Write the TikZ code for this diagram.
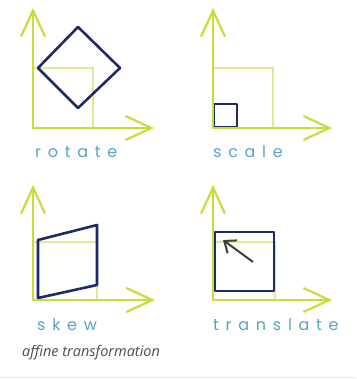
\documentclass[tikz,border=0pt]{standalone}
\usepackage{fontspec}
\usetikzlibrary{arrows.meta,positioning}
\newfontfamily\handfont[LetterSpace=42]{Poppins}
\newfontfamily\captfont{Open Sans}
\definecolor{axisgreen}{RGB}{196,222,60}
\definecolor{ghostgreen}{RGB}{224,234,150}
\definecolor{shapeblue}{RGB}{30,42,104}
\definecolor{labelteal}{RGB}{86,164,196}

\begin{document}
\begin{tikzpicture}[x=1pt, y=-1pt,
    >={Straight Barb[length=26pt,width=24pt,line width=2.2pt]},
    axisline/.style={->, draw, axisgreen, line width=2.6pt},
    ghost/.style={draw, ghostgreen, line width=2pt},
    blueline/.style={draw, shapeblue, line width=2.6pt, line join=round},
    moveline/.style={draw, black!75, line width=2pt, -{Straight Barb[length=10pt,width=16pt,line width=2pt]}},
    lbl/.style={anchor=west, inner sep=0pt, labelteal, font=\handfont\fontsize{16}{16}\selectfont},
    capt/.style={anchor=west, inner sep=0pt, black!70, font=\captfont\itshape\fontsize{14.5}{14.5}\selectfont}]

\useasboundingbox (0,0) rectangle (356,379);

% origins of the four frames
\coordinate (o1) at (33,128);
\coordinate (o2) at (213,128);
\coordinate (o3) at (33,300);
\coordinate (o4) at (213,300);

% rotate
\draw [ghost] (o1) rectangle ++(60,-60);
\draw [blueline] (38,68) -- (78,27) -- (120,68) -- (78,108) -- cycle;
\draw [axisline] (o1) -- ++(0,-120);
\draw [axisline] (o1) -- ++(121,0);
\node [lbl] (rotlbl) at (35,152) {rotate};

% scale
\draw [ghost] (o2) rectangle ++(60,-60);
\draw [blueline] (214,104) rectangle (237,127);
\draw [axisline] (o2) -- ++(0,-120);
\draw [axisline] (o2) -- ++(119,0);
\node [lbl] (scllbl) at (213,152) {scale};

% skew
\draw [ghost] (o3) rectangle ++(64,-58);
\draw [blueline] (38,240) -- (97,225) -- (97,285) -- (38,298) -- cycle;
\draw [axisline] (o3) -- ++(0,-115);
\draw [axisline] (o3) -- ++(122,0);
\node [lbl] (skwlbl) at (37,325) {skew};

% translate
\draw [ghost] (o4) rectangle ++(62,-58);
\draw [blueline] (215,232) rectangle (274,291);
\coordinate (mvfrom) at (253,262);
\coordinate (mvto) at (223,240);
\draw [moveline] (mvfrom) -- (mvto);
\draw [axisline] (o4) -- ++(0,-115);
\draw [axisline] (o4) -- ++(119,0);
\node [lbl] (trnlbl) at (213,325) {translate};

\node [capt] (caption) at (22,353) {affine transformation};
\draw [ghostgreen!60, line width=1pt] (0,377) -- (356,377);

\end{tikzpicture}
\end{document}
